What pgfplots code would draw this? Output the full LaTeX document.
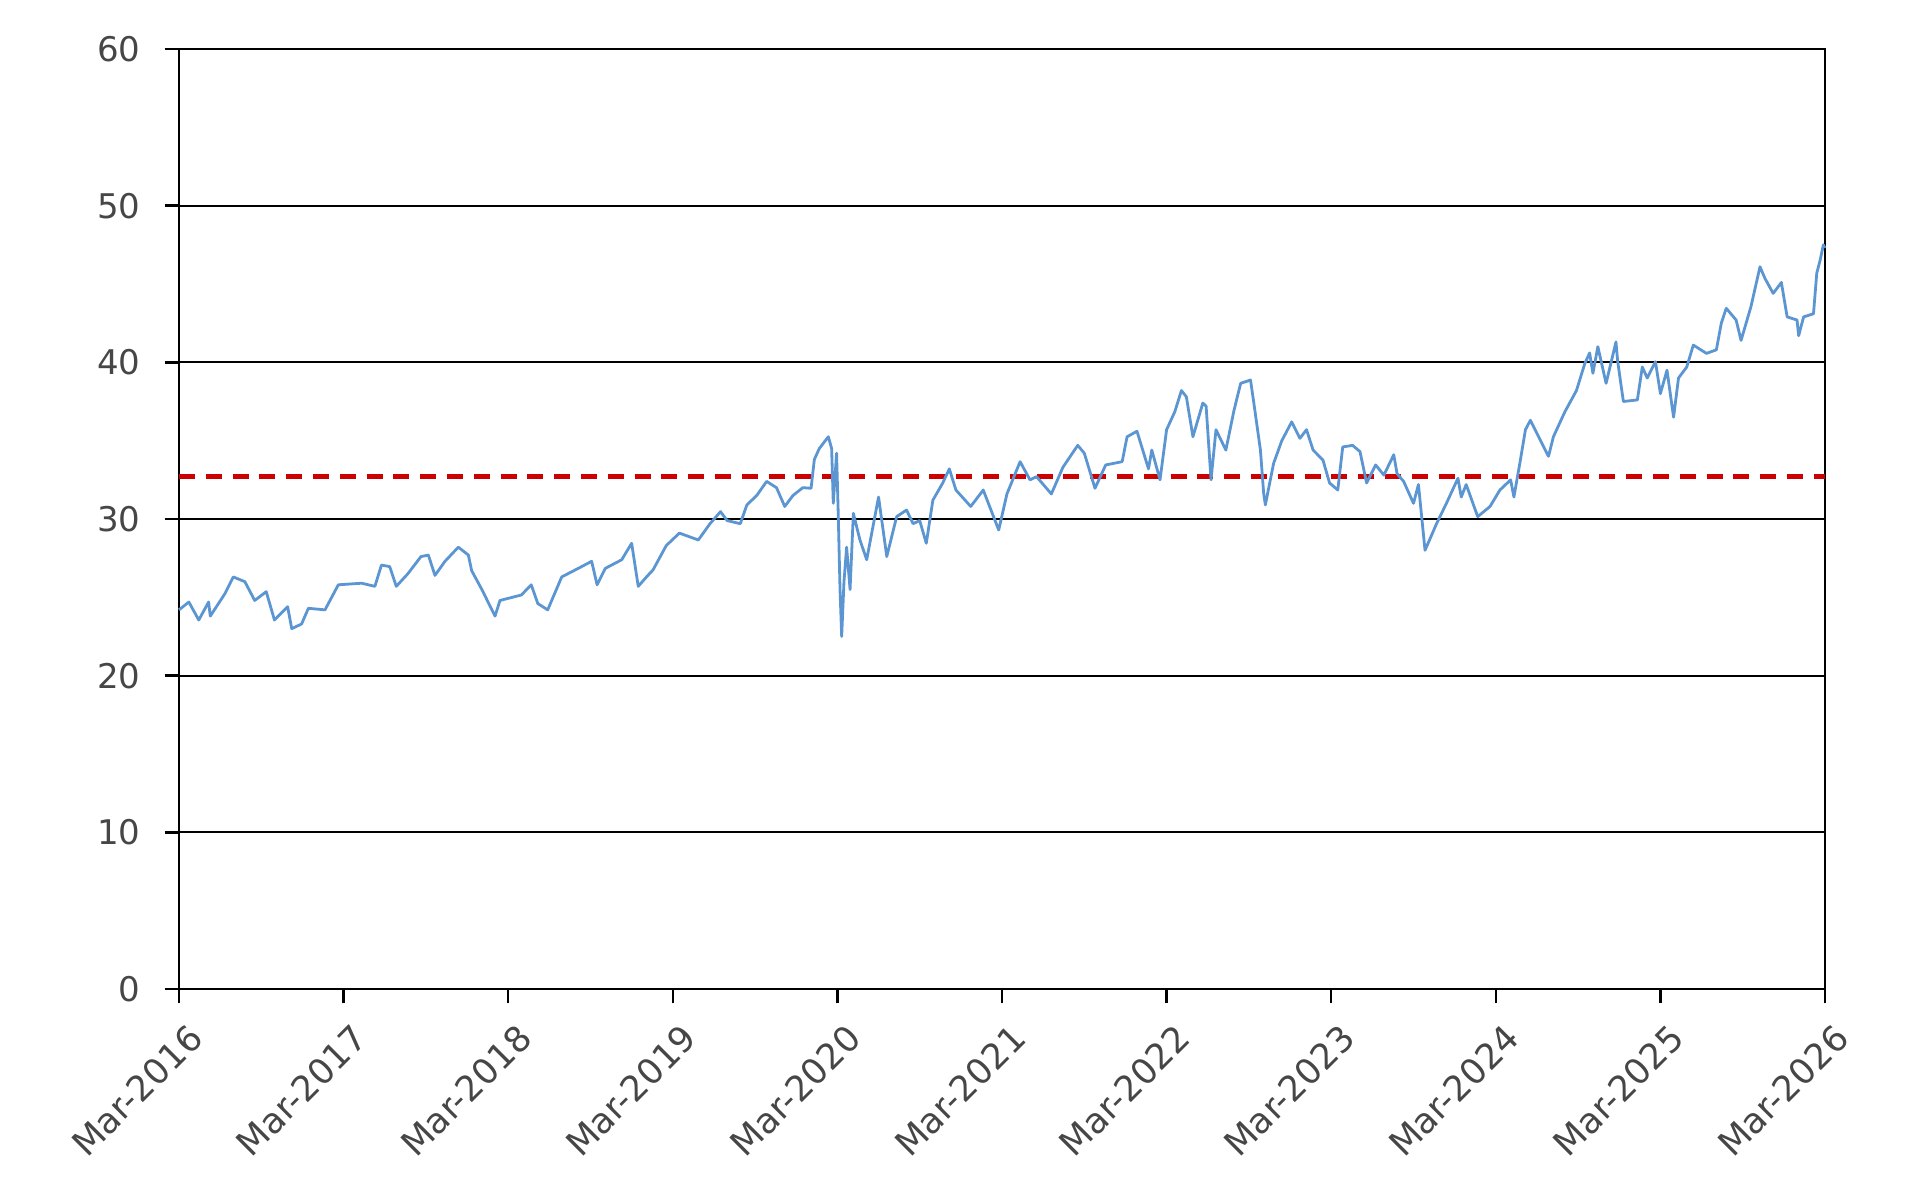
\documentclass[border=0pt]{standalone}
\usepackage{fontspec}
\setmainfont{DejaVu Sans}
\usepackage{pgfplots}
\pgfplotsset{compat=1.18}
\definecolor{lbl}{RGB}{70,70,70}
\definecolor{serblue}{RGB}{91,150,210}
\definecolor{avgred}{RGB}{204,0,0}
\begin{document}
\begin{tikzpicture}
\useasboundingbox (-44.75pt,-52pt) rectangle (434.5pt,247.25pt);
\begin{axis}[
  at={(0,0)}, anchor=south west,
  scale only axis, width=411.5pt, height=235pt,
  xmin=0, xmax=10, ymin=0, ymax=60,
  xtick={0,1,...,10},
  xticklabels={Mar-2016,Mar-2017,Mar-2018,Mar-2019,Mar-2020,Mar-2021,Mar-2022,Mar-2023,Mar-2024,Mar-2025,Mar-2026},
  ytick={0,10,...,60},
  tick pos=left, tick align=outside,
  major tick length=3.6pt,
  tick style={black, line width=0.6pt},
  axis line style={black, line width=0.6pt},
  ymajorgrids, major grid style={black, line width=0.5pt},
  /pgf/number format/assume math mode=true,
  yticklabel style={font=\fontsize{8.5}{10}\selectfont, text=lbl, xshift=-2.5pt},
  xticklabel style={font=\fontsize{8.8}{10}\selectfont, text=lbl, rotate=45, anchor=east, xshift=1.5pt, yshift=-8pt},
  clip=false,
]
\addplot[avgred, line width=1.1pt, dash pattern=on 4pt off 2.7pt] coordinates {(0,32.7) (10,32.7)};
\addplot[serblue, line width=0.7pt, line join=round] coordinates {
(0.00,24.2) (0.06,24.7) (0.12,23.55) (0.18,24.7) (0.19,23.8) (0.28,25.25) (0.33,26.3) (0.40,26.0)
(0.46,24.8) (0.53,25.36) (0.58,23.55) (0.66,24.4) (0.685,23.0) (0.745,23.3) (0.786,24.3) (0.887,24.2)
(0.968,25.8) (1.11,25.9) (1.19,25.7) (1.23,27.06) (1.28,26.96) (1.32,25.7) (1.39,26.5) (1.47,27.6)
(1.515,27.7) (1.555,26.4) (1.616,27.3) (1.697,28.2) (1.758,27.7) (1.778,26.7) (1.84,25.5) (1.92,23.8)
(1.95,24.8) (2.08,25.15) (2.14,25.8) (2.18,24.6) (2.24,24.2) (2.325,26.3) (2.446,26.96) (2.507,27.3)
(2.54,25.8) (2.59,26.85) (2.69,27.4) (2.75,28.45) (2.79,25.7) (2.84,26.3) (2.88,26.75) (2.96,28.3)
(3.04,29.1) (3.155,28.66) (3.226,29.7) (3.29,30.47) (3.33,29.9) (3.41,29.7) (3.45,30.9) (3.51,31.5)
(3.57,32.4) (3.63,32.0) (3.68,30.8) (3.73,31.5) (3.79,32.0) (3.84,31.96) (3.86,33.8) (3.89,34.5)
(3.945,35.25) (3.965,34.5) (3.975,31.0) (3.995,34.2) (4.005,30.36) (4.016,25.47) (4.026,22.5) (4.04,26.0)
(4.056,28.2) (4.077,25.5) (4.097,30.36) (4.137,28.66) (4.178,27.4) (4.25,31.4) (4.3,27.6) (4.36,30.15)
(4.42,30.57) (4.46,29.7) (4.50,29.9) (4.54,28.45) (4.58,31.2) (4.64,32.3) (4.68,33.2) (4.72,31.85)
(4.81,30.8) (4.886,31.85) (4.98,29.3) (5.03,31.6) (5.11,33.66) (5.17,32.5) (5.21,32.7) (5.30,31.6)
(5.37,33.3) (5.46,34.7) (5.50,34.2) (5.565,31.96) (5.63,33.45) (5.73,33.66) (5.76,35.25) (5.82,35.6)
(5.89,33.2) (5.91,34.4) (5.96,32.5) (6.0,35.7) (6.05,36.85) (6.09,38.2) (6.12,37.8) (6.16,35.25)
(6.22,37.4) (6.24,37.2) (6.27,32.5) (6.30,35.7) (6.36,34.4) (6.41,36.96) (6.45,38.66) (6.51,38.87)
(6.53,37.4) (6.57,34.4) (6.59,31.6) (6.60,30.9) (6.65,33.55) (6.70,35.0) (6.76,36.2) (6.81,35.15)
(6.85,35.7) (6.89,34.4) (6.95,33.76) (6.99,32.3) (7.04,31.85) (7.07,34.6) (7.13,34.7) (7.175,34.3)
(7.215,32.3) (7.27,33.45) (7.32,32.8) (7.38,34.1) (7.40,32.9) (7.44,32.4) (7.50,31.0) (7.53,32.2)
(7.57,28.0) (7.64,29.7) (7.70,31.0) (7.77,32.6) (7.79,31.4) (7.82,32.2) (7.89,30.15) (7.965,30.8)
(8.025,31.85) (8.09,32.5) (8.11,31.4) (8.15,33.8) (8.18,35.7) (8.21,36.3) (8.26,35.25) (8.32,34.0)
(8.35,35.25) (8.42,36.85) (8.49,38.2) (8.54,39.9) (8.57,40.6) (8.59,39.3) (8.62,41.0) (8.67,38.66)
(8.73,41.3) (8.74,40.1) (8.775,37.5) (8.86,37.6) (8.89,39.7) (8.92,39.0) (8.97,40.04) (9.0,38.0)
(9.04,39.5) (9.08,36.5) (9.11,39.0) (9.16,39.7) (9.20,41.1) (9.28,40.57) (9.34,40.8) (9.37,42.5)
(9.40,43.45) (9.46,42.7) (9.49,41.4) (9.55,43.55) (9.605,46.1) (9.635,45.36) (9.685,44.4) (9.735,45.1)
(9.77,42.9) (9.83,42.7) (9.84,41.7) (9.87,42.9) (9.93,43.1) (9.95,45.7) (9.97,46.5) (9.99,47.5) (10.0,47.3)
};
\end{axis}
\end{tikzpicture}
\end{document}
